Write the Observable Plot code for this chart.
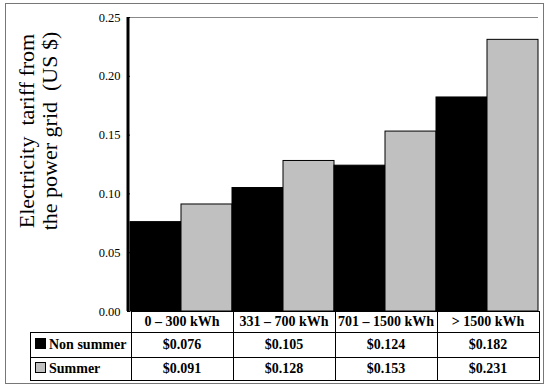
<!DOCTYPE html>
<html><head><meta charset="utf-8">
<script src="https://cdn.jsdelivr.net/npm/d3@7"></script>
<script src="https://cdn.jsdelivr.net/npm/@observablehq/plot@0.6"></script>
<style>
body{margin:0;background:#fff;}
#wrap{position:relative;width:550px;height:390px;font-family:"Liberation Serif",serif;overflow:hidden;}
#frame{position:absolute;left:5px;top:3px;width:537px;height:379px;border:1px solid #777;pointer-events:none;}
#ylab{position:absolute;left:-85px;top:108px;width:246px;height:46px;transform:rotate(-90deg);text-align:center;font-family:"Liberation Serif",serif;font-size:22px;line-height:23px;color:#000;white-space:pre;}
#tbl{position:absolute;left:30px;top:311px;border-collapse:collapse;color:#000;}
#tbl td{font-family:"Liberation Serif",serif;font-size:14px;font-weight:bold;border:1px solid #000;padding:0;text-align:center;white-space:nowrap;}
#tbl td.leg{text-align:left;padding-left:4px;}
#tbl td.empty{border-top:none;border-left:none;}
.sw{display:inline-block;width:9px;height:9px;border:1px solid #000;margin-right:3px;vertical-align:0px;}
svg{position:absolute;left:0;top:0;}
</style></head><body><div id="wrap"></div>
<script>
const categories = ["0 – 300 kWh", "331 – 700 kWh", "701 – 1500 kWh", "> 1500 kWh"];
const series = ["Non summer", "Summer"];
const nonSummer = [0.076, 0.105, 0.124, 0.182];
const summer = [0.091, 0.128, 0.153, 0.231];
const yTicks = [0, 0.05, 0.10, 0.15, 0.20, 0.25];
const colors = ["#000000", "#c0c0c0"];
const yLabel = ["Electricity  tariff from", "the power grid  (US $)"];
const valueLabels = [nonSummer, summer].map(s => s.map(v => "$" + v.toFixed(3)));

const data = categories.flatMap((c, i) => [
  {cat: c, series: series[0], value: nonSummer[i]},
  {cat: c, series: series[1], value: summer[i]}
]);
data.forEach(d => d.key = d.cat + "|" + d.series);

const chart = Plot.plot({
  width: 550, height: 390,
  marginLeft: 130, marginRight: 12, marginTop: 17, marginBottom: 79,
  style: {fontFamily: "Liberation Serif, serif", fontSize: "12.5px", background: "transparent", color: "#000"},
  x: {domain: data.map(d => d.key), padding: 0, axis: null},
  y: {domain: [0, 0.25], ticks: yTicks, tickFormat: ".2f", label: null, tickSize: 3, tickPadding: 7},
  color: {domain: series, range: colors},
  marks: [
    Plot.ruleY([0.25], {stroke: "#888"}),
    Plot.barY(data, {x: "key", y: "value", fill: "series", stroke: "#000", strokeWidth: 1})
  ]
});

const wrap = document.getElementById("wrap");
wrap.appendChild(chart);

// y axis line derived from the y scale
const ys = chart.scale("y");
d3.select(chart).append("line")
  .attr("x1", 128).attr("x2", 128)
  .attr("y1", ys.apply(0)).attr("y2", ys.apply(0.25))
  .attr("stroke", "#000").attr("stroke-width", 3);

// y label
const yl = document.createElement("div");
yl.id = "ylab";
yl.textContent = yLabel.join("\n");
wrap.appendChild(yl);

// data table
const tbl = document.createElement("table");
tbl.id = "tbl";
let html = '<tr style="height:21px"><td class="empty" style="width:100px"></td>' +
  categories.map(c => `<td style="width:101px">${c}</td>`).join("") + "</tr>";
const heights = [25, 23];
series.forEach((s, si) => {
  html += `<tr style="height:${heights[si]}px"><td class="leg"><span class="sw" style="background:${colors[si]}"></span>${s}</td>` +
    valueLabels[si].map(v => `<td>${v}</td>`).join("") + "</tr>";
});
tbl.innerHTML = html;
wrap.appendChild(tbl);

const fr = document.createElement("div");
fr.id = "frame";
wrap.appendChild(fr);
</script>
</body></html>
